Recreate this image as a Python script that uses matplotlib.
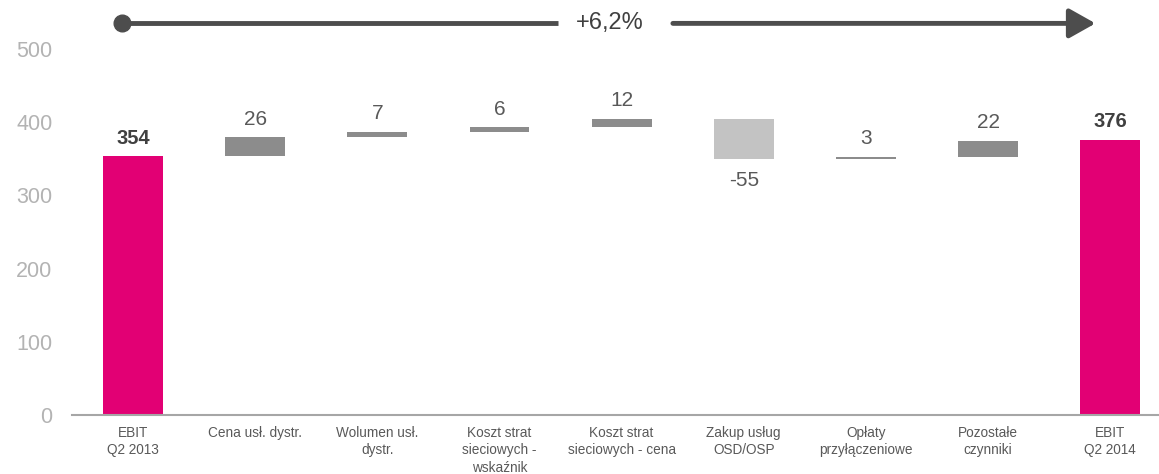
import matplotlib
matplotlib.use("Agg")
import matplotlib.pyplot as plt

categories = ["EBIT\nQ2 2013", "Cena usł. dystr.", "Wolumen usł.\ndystr.",
              "Koszt strat\nsieciowych -\nwskaźnik", "Koszt strat\nsieciowych - cena",
              "Zakup usług\nOSD/OSP", "Opłaty\nprzyłączeniowe", "Pozostałe\nczynniki",
              "EBIT\nQ2 2014"]
start_value = 354
deltas = [26, 7, 6, 12, -55, 3, 22]
end_value = 376
change_label = "+6,2%"
yticks = [0, 100, 200, 300, 400, 500]

MAGENTA = "#E20074"
UP = "#8C8C8C"
DOWN = "#C3C3C3"
TXT = "#595959"
TICK = "#B3B3B3"

plt.rcParams['font.family'] = ['Liberation Sans', 'DejaVu Sans']

fig = plt.figure(figsize=(11.59, 4.74), dpi=100)
ax = fig.add_axes([72/1159, 59/474, 1 - 72/1159, (415-49)/474])

W = 0.49
# first bar
ax.bar(0, start_value, width=W, color=MAGENTA)
ax.annotate(str(start_value), (0, start_value), xytext=(0, 6), textcoords="offset points",
            ha="center", va="bottom", fontsize=14.5, fontweight="bold", color="#404040")
cum = start_value
for i, d in enumerate(deltas, start=1):
    bottom = cum if d >= 0 else cum + d
    ax.bar(i, abs(d), bottom=bottom, width=W, color=UP if d >= 0 else DOWN)
    if d >= 0:
        ax.annotate(str(d), (i, cum + d), xytext=(0, 6), textcoords="offset points",
                    ha="center", va="bottom", fontsize=15, color=TXT)
    else:
        ax.annotate(str(d), (i, cum + d), xytext=(0, -9), textcoords="offset points",
                    ha="center", va="top", fontsize=15, color=TXT)
    cum += d
n = len(categories) - 1
ax.bar(n, end_value, width=W, color=MAGENTA)
ax.annotate(str(end_value), (n, end_value), xytext=(0, 6), textcoords="offset points",
            ha="center", va="bottom", fontsize=14.5, fontweight="bold", color="#404040")

ax.set_xlim(-0.5, 8.4)
ax.set_ylim(0, 500)
ax.set_yticks(yticks)
ax.set_yticklabels([str(t) for t in yticks], fontsize=15.5, color=TICK)
ax.set_xticks(range(len(categories)))
ax.set_xticklabels(categories, fontsize=9.8, color=TXT, linespacing=1.3)
ax.tick_params(axis="both", length=0)
ax.tick_params(axis="y", pad=14)
ax.tick_params(axis="x", pad=8)
for s in ["top", "right", "left"]:
    ax.spines[s].set_visible(False)
ax.spines["bottom"].set_color("#A6A6A6")
ax.spines["bottom"].set_linewidth(1.5)

# growth arrow
ya = 535
x0, x1 = -0.09, 7.88
gap_l, gap_r = 3.48, 4.42
ax.plot([x0, gap_l], [ya, ya], color="#4D4D4D", lw=3.5, clip_on=False, solid_capstyle="butt")
ax.plot([x0], [ya], "o", color="#4D4D4D", ms=12, clip_on=False)
ax.annotate("", xy=(x1, ya), xytext=(gap_r, ya), annotation_clip=False,
            arrowprops=dict(arrowstyle="-|>,head_length=1.6,head_width=0.9",
                            color="#4D4D4D", lw=3.5, shrinkA=0, shrinkB=0))
ax.text(3.905, ya, change_label, ha="center", va="center",
        fontsize=17, color="#404040", clip_on=False)

fig.savefig("out.png", dpi=100)
